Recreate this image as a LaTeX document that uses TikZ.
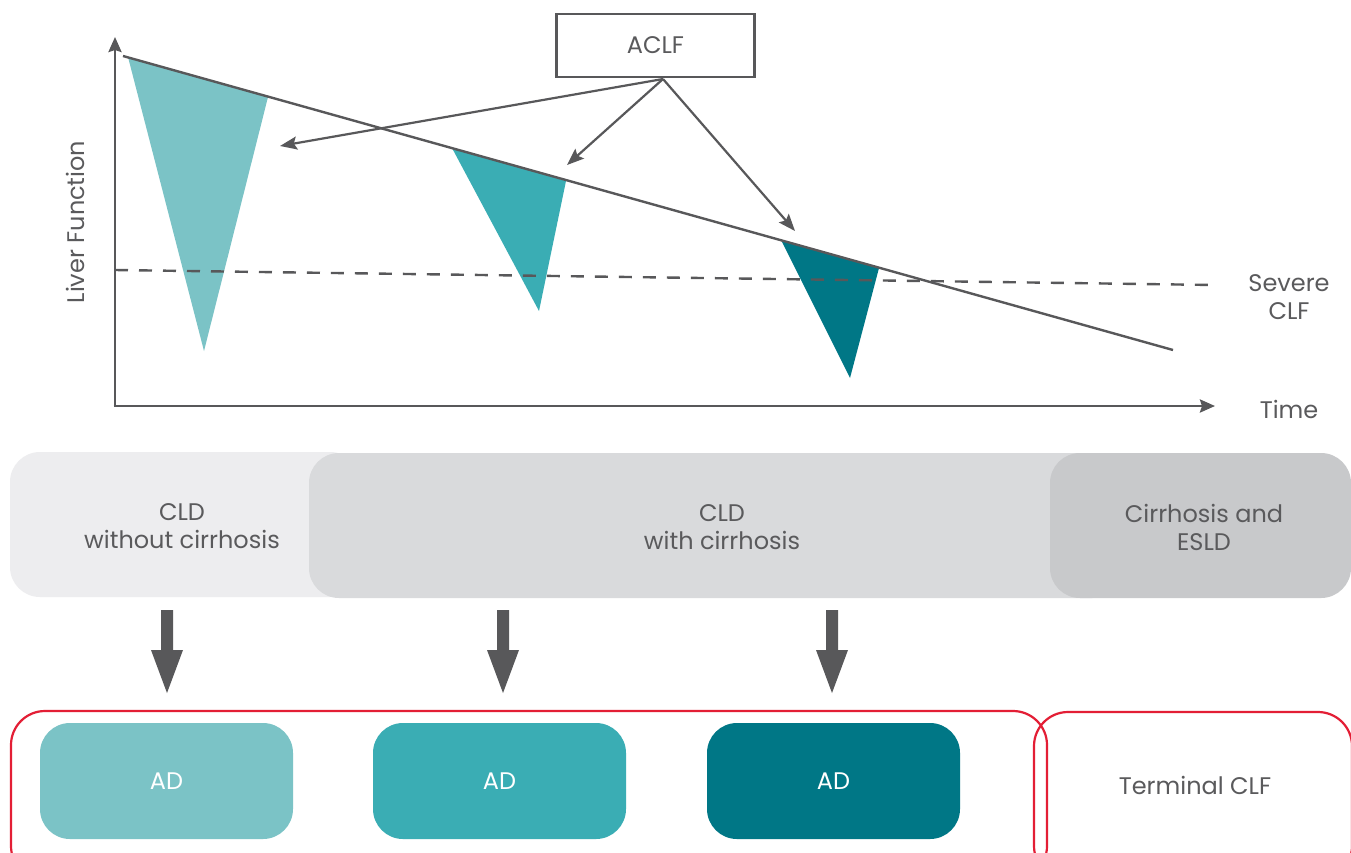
\documentclass[tikz,border=0pt]{standalone}
\usepackage{fontspec}
\setmainfont{Poppins}
\usetikzlibrary{arrows.meta}
\definecolor{txtgray}{HTML}{5A5A5C}
\definecolor{linegray}{HTML}{58585A}
\definecolor{tealA}{HTML}{7BC3C6}
\definecolor{tealB}{HTML}{3AADB4}
\definecolor{tealC}{HTML}{007786}
\definecolor{bandA}{HTML}{EDEDEF}
\definecolor{bandB}{HTML}{D9DADC}
\definecolor{bandC}{HTML}{C8C9CB}
\definecolor{redline}{HTML}{E31E35}
\tikzset{
  lbl/.style={text=txtgray, font=\fontsize{24}{28}\selectfont, align=center, inner sep=0pt},
  axis/.style={draw=linegray, line width=2.6pt, -{Stealth[length=15pt,width=13pt,inset=2pt]}},
  aclfarrow/.style={draw=linegray, line width=2.2pt, -{Stealth[length=17pt,width=13pt,inset=3pt]}},
  band/.style={rounded corners=30pt, draw=none},
  adbox/.style={rounded corners=30pt, minimum width=253pt, minimum height=116pt, inner sep=0pt, text=white, font=\fontsize{24}{28}\selectfont},
  redbox/.style={draw=redline, line width=2.2pt, rounded corners=34pt},
  fatarrow/.style={fill=linegray, draw=none},
}
\begin{document}
\begin{tikzpicture}[x=1pt,y=-1pt]
\useasboundingbox (0,0) rectangle (1351,852);
\clip (0,0) rectangle (1351,852);
\fill[white] (0,0) rectangle (1351,852);

% triangles (drops)
\fill[tealA] (128,57) -- (268,97) -- (204,351) -- cycle;
\fill[tealB] (452,148) -- (566,181) -- (539,311) -- cycle;
\fill[tealC] (781,240) -- (879,268) -- (850,378) -- cycle;

% dashed severe CLF line
\coordinate (dashL) at (115,270);
\coordinate (dashR) at (1215,285);
\draw[linegray, line width=2.4pt, dash pattern=on 13pt off 11pt] (dashL) -- (dashR);

% main decline line
\coordinate (lineS) at (123,56);
\coordinate (lineE) at (1173,350);
\draw[linegray, line width=2.4pt] (lineS) -- (lineE);

% axes
\coordinate (origin) at (115,406);
\coordinate (ytop) at (115,37);
\coordinate (xend) at (1215,406);
\draw[axis] (origin) -- (ytop);
\draw[axis] ([xshift=-1.3pt]origin) -- (xend);

% ACLF box and arrows
\node[draw=linegray, line width=2.4pt, minimum width=198pt, minimum height=63pt, inner sep=0pt, lbl] (aclf) at (655.5,45.5) {ACLF};
\coordinate (aclfB) at (663,79);
\coordinate (t1) at (280,146);
\coordinate (t2) at (567,165);
\coordinate (t3) at (795,231);
\draw[aclfarrow] (aclfB) -- (t1);
\draw[aclfarrow] (aclfB) -- (t2);
\draw[aclfarrow] (aclfB) -- (t3);

% axis labels
\node[lbl, rotate=90] (yl) at (75,222) {Liver Function};
\node[lbl] (sev) at (1289,297) {Severe\\CLF};
\node[lbl] (time) at (1289,409) {Time};

% bands
\fill[band, bandA] (10,452) rectangle (360,597);
\fill[band, bandB] (309,453) rectangle (1122,598);
\fill[band, bandC] (1050,453) rectangle (1351,598);
\node[lbl] (b1) at (182,526) {CLD\\without cirrhosis};
\node[lbl] (b2) at (722,527) {CLD\\with cirrhosis};
\node[lbl] (b3) at (1204,527) {Cirrhosis and\\ESLD};

% fat arrows
\foreach \n/\xx in {1/167, 2/503, 3/832}{
  \coordinate (fa\n) at (\xx,610);
  \fill[fatarrow] ([xshift=-6pt]fa\n) -- ([xshift=6pt]fa\n) -- ([xshift=6pt,yshift=-40pt]fa\n) -- ([xshift=16pt,yshift=-40pt]fa\n) -- ([yshift=-83pt]fa\n) -- ([xshift=-16pt,yshift=-40pt]fa\n) -- ([xshift=-6pt,yshift=-40pt]fa\n) -- cycle;
}

% red boxes
\draw[redbox] (11,711) rectangle (1047,880);
\draw[redbox] (1034,712) rectangle (1352,880);

% AD boxes
\node[adbox, fill=tealA] (ad1) at (166.5,781) {AD};
\node[adbox, fill=tealB] (ad2) at (499.5,781) {AD};
\node[adbox, fill=tealC] (ad3) at (833.5,781) {AD};
\node[lbl] (term) at (1195,785) {Terminal CLF};
\end{tikzpicture}
\end{document}
